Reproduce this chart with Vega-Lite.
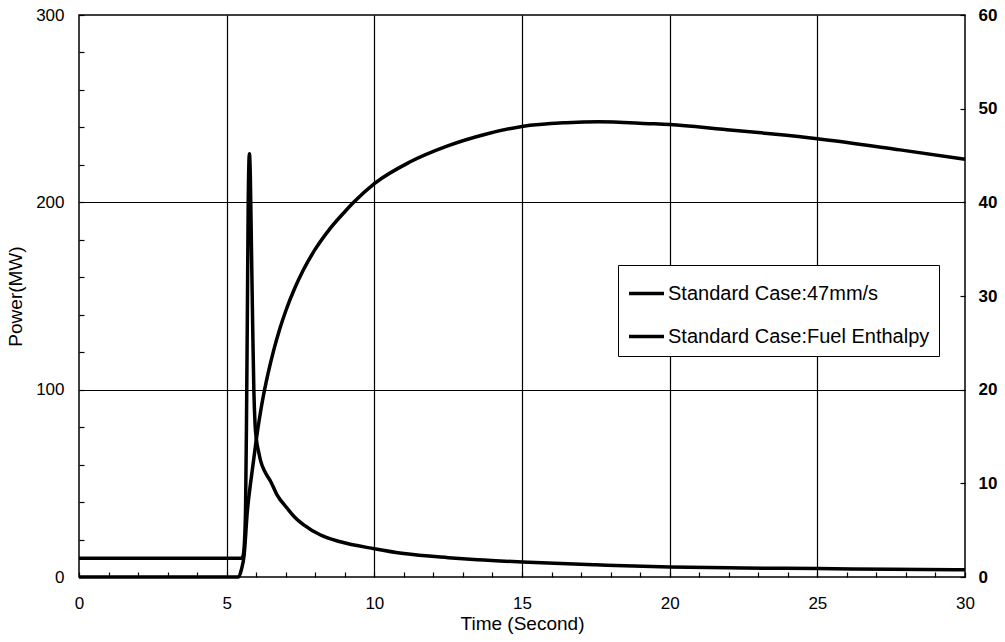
{
  "$schema": "https://vega.github.io/schema/vega-lite/v6.json",
  "width": 886,
  "height": 562,
  "autosize": {"type": "none"},
  "padding": {"left": 79, "top": 15, "right": 40, "bottom": 65},
  "background": "white",
  "config": {
    "view": {"stroke": "black", "strokeWidth": 1.5},
    "axis": {
      "domain": false,
      "labelFlush": false,
      "tickColor": "black",
      "tickWidth": 1.2,
      "labelColor": "black",
      "titleColor": "black",
      "labelFont": "Liberation Sans",
      "titleFont": "Liberation Sans",
      "labelFontSize": 17,
      "titleFontSize": 19,
      "titleFontWeight": "normal",
      "gridColor": "black",
      "gridWidth": 1.2
    },
    "legend": {"labelFont": "Liberation Sans"}
  },
  "datasets": {
    "power": [
      {"t": 0, "mw": 10}, {"t": 5.5, "mw": 10}, {"t": 5.55, "mw": 11}, {"t": 5.6, "mw": 18},
      {"t": 5.64, "mw": 37}, {"t": 5.67, "mw": 80}, {"t": 5.7, "mw": 139}, {"t": 5.73, "mw": 200},
      {"t": 5.77, "mw": 226}, {"t": 5.8, "mw": 215}, {"t": 5.84, "mw": 175}, {"t": 5.88, "mw": 135},
      {"t": 5.92, "mw": 100}, {"t": 5.96, "mw": 82}, {"t": 6.01, "mw": 73}, {"t": 6.08, "mw": 67},
      {"t": 6.15, "mw": 62}, {"t": 6.3, "mw": 56}, {"t": 6.49, "mw": 51}, {"t": 6.7, "mw": 44},
      {"t": 7.05, "mw": 36.7}, {"t": 7.3, "mw": 32}, {"t": 7.61, "mw": 27.8}, {"t": 8.18, "mw": 22.4},
      {"t": 8.85, "mw": 18.8}, {"t": 10, "mw": 15.1}, {"t": 11, "mw": 12.5}, {"t": 12.5, "mw": 10.3},
      {"t": 13.5, "mw": 9.2}, {"t": 15, "mw": 8.0}, {"t": 17.5, "mw": 6.5}, {"t": 20, "mw": 5.3},
      {"t": 22.5, "mw": 4.8}, {"t": 25, "mw": 4.5}, {"t": 27.5, "mw": 4.1}, {"t": 30, "mw": 3.9}
    ],
    "enthalpy": [
      {"t": 0, "h": 0}, {"t": 5.4, "h": 0}, {"t": 5.5, "h": 0.8}, {"t": 5.59, "h": 2.3},
      {"t": 5.7, "h": 7.0}, {"t": 5.85, "h": 11.0}, {"t": 6.0, "h": 14.6}, {"t": 6.2, "h": 18.6},
      {"t": 6.4, "h": 21.7}, {"t": 6.6, "h": 24.3}, {"t": 6.8, "h": 26.5}, {"t": 7.0, "h": 28.4},
      {"t": 7.3, "h": 30.8}, {"t": 7.6, "h": 32.8}, {"t": 8.0, "h": 35.0}, {"t": 8.5, "h": 37.2},
      {"t": 9.0, "h": 39.0}, {"t": 9.3, "h": 40.0}, {"t": 10, "h": 42.0}, {"t": 11.2, "h": 44.3},
      {"t": 12.46, "h": 46.0}, {"t": 13.8, "h": 47.3}, {"t": 15, "h": 48.1}, {"t": 16.5, "h": 48.5},
      {"t": 17.6, "h": 48.6}, {"t": 19.3, "h": 48.4}, {"t": 20, "h": 48.3}, {"t": 21.8, "h": 47.8},
      {"t": 23.5, "h": 47.3}, {"t": 25, "h": 46.8}, {"t": 27.8, "h": 45.6}, {"t": 30, "h": 44.6}
    ]
  },
  "encoding": {
    "x": {
      "field": "t", "type": "quantitative",
      "scale": {"domain": [0, 30], "nice": false, "zero": false},
      "axis": {
        "title": "Time (Second)",
        "values": [0,1,2,3,4,5,6,7,8,9,10,11,12,13,14,15,16,17,18,19,20,21,22,23,24,25,26,27,28,29,30],
        "labelExpr": "datum.value % 5 === 0 ? datum.label : ''",
        "offset": -5,
        "tickSize": 5,
        "labelPadding": 18,
        "titlePadding": 3,
        "grid": true,
        "gridOpacity": {"condition": {"test": "datum.value % 5 === 0 && datum.value > 0 && datum.value < 30", "value": 1}, "value": 0}
      }
    }
  },
  "layer": [
    {
      "data": {"name": "power"},
      "mark": {"type": "line", "strokeWidth": 3.5, "interpolate": "monotone"},
      "encoding": {
        "y": {
          "field": "mw", "type": "quantitative",
          "scale": {"domain": [0, 300], "nice": false},
          "axis": {
            "title": "Power(MW)",
            "values": [0,20,40,60,80,100,120,140,160,180,200,220,240,260,280,300],
            "labelExpr": "datum.value % 100 === 0 ? datum.label : ''",
            "offset": -5,
            "tickSize": 5,
            "labelPadding": 15,
            "titlePadding": 10,
            "grid": true,
            "gridOpacity": {"condition": {"test": "datum.value === 100 || datum.value === 200", "value": 1}, "value": 0}
          }
        },
        "color": {
          "datum": "Standard Case:47mm/s", "type": "nominal",
          "scale": {"domain": ["Standard Case:47mm/s", "Standard Case:Fuel Enthalpy"], "range": ["black", "black"]},
          "legend": {
            "title": null,
            "orient": "none",
            "legendX": 539,
            "legendY": 250,
            "direction": "vertical",
            "strokeColor": "black",
            "fillColor": "white",
            "padding": 9,
            "symbolType": "stroke",
            "symbolSize": 1225,
            "symbolStrokeWidth": 3.5,
            "labelFontSize": 20,
            "labelOffset": 2,
            "rowPadding": 13,
            "labelLimit": 400
          }
        }
      }
    },
    {
      "data": {"name": "enthalpy"},
      "mark": {"type": "line", "strokeWidth": 3.5, "interpolate": "monotone"},
      "encoding": {
        "y": {
          "field": "h", "type": "quantitative",
          "scale": {"domain": [0, 60], "nice": false},
          "axis": {
            "orient": "right",
            "title": null,
            "values": [0,10,20,30,40,50,60],
            "offset": -5,
            "tickSize": 5,
            "labelPadding": 13,
            "labelFontWeight": "bold",
            "grid": false
          }
        },
        "color": {"datum": "Standard Case:Fuel Enthalpy", "type": "nominal"}
      }
    }
  ],
  "resolve": {"scale": {"y": "independent"}}
}
